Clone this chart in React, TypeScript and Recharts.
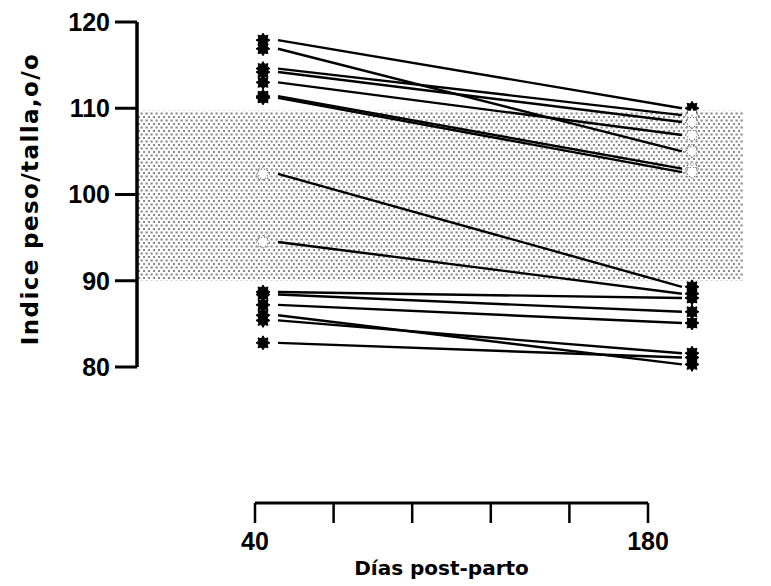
import { LineChart, Line, XAxis, YAxis, ReferenceArea } from 'recharts';

// días post-parto at which each woman was measured
const days = [40, 180];
const dayTicks = [40, 68, 96, 124, 152, 180];
const indexTicks = [80, 90, 100, 110, 120];
// shaded normal range of the weight/height index
const normalLow = 90;
const normalHigh = 109.7;
// índice peso/talla (%) per subject, same order in both arrays
const day40 = [117.9, 116.9, 114.6, 114.2, 113.0, 111.4, 111.2, 102.4, 94.5, 88.7, 88.4, 87.2, 86.0, 85.4, 82.8];
const day180 = [110.0, 105.0, 109.2, 108.4, 106.9, 103.0, 102.6, 89.3, 88.5, 88.0, 86.4, 85.1, 80.3, 81.6, 81.1];

const data = days.map((day, d) => {
  const row: Record<string, number> = { day };
  (d === 0 ? day40 : day180).forEach((v, i) => {
    row[`s${i}`] = v;
  });
  return row;
});

const axisData = dayTicks.map((day) => ({ day }));

const tickFont = { fill: '#000', fontSize: 25, fontWeight: 'bold', fontFamily: 'Liberation Sans, Arial, sans-serif' };
const titleFont = { fill: '#000', fontWeight: 'bold', fontFamily: 'DejaVu Sans, sans-serif' };

function starPath(r1: number, r2: number) {
  const pts: string[] = [];
  for (let k = 0; k < 16; k++) {
    const a = (k * Math.PI) / 8;
    const r = k % 2 === 0 ? r1 : r2;
    pts.push(`${(r * Math.cos(a)).toFixed(2)},${(r * Math.sin(a)).toFixed(2)}`);
  }
  return 'M' + pts.join('L') + 'Z';
}
const STAR = starPath(7, 4.5);

function Mark(props: any) {
  const { cx, cy, index, payload, dataKey } = props;
  if (cx == null || cy == null) return <g key={`${dataKey}-${index}`} />;
  const x = index === 0 ? cx - 15 : cx + 10;
  const v = payload[dataKey];
  const inBand = v > normalLow && v < normalHigh;
  return (
    <path
      key={`${dataKey}-${index}`}
      d={STAR}
      transform={`translate(${x},${cy})`}
      fill={inBand ? '#fff' : '#000'}
      stroke={inBand ? '#555' : '#000'}
      strokeWidth={1}
      strokeDasharray={inBand ? '1.2 1.6' : undefined}
    />
  );
}

export default function App() {
  return (
    <div style={{ position: 'absolute', left: 0, top: 0, width: 771, height: 586, background: '#fff' }}>
      <div style={{ position: 'absolute', left: 0, top: 0 }}>
        <LineChart width={771} height={392} data={data} margin={{ top: 22, right: 28, bottom: 25, left: 0 }}>
          <defs>
            <pattern id="dots" width="5" height="7" patternUnits="userSpaceOnUse">
              <rect x="0.5" y="0.5" width="2.2" height="2" fill="#111" />
              <rect x="3" y="4" width="2.2" height="2" fill="#111" />
            </pattern>
          </defs>
          <XAxis xAxisId="d" dataKey="day" type="number" domain={[40, 180]} padding={{ left: 141, right: 61 }} hide />
          <XAxis xAxisId="band" type="number" domain={[0, 1]} allowDataOverflow hide />
          <YAxis
            domain={[80, 120]}
            ticks={indexTicks}
            interval={0}
            width={137}
            tickSize={22}
            tickMargin={5}
            axisLine={{ stroke: '#000', strokeWidth: 3.5 }}
            tickLine={{ stroke: '#000', strokeWidth: 3 }}
            tick={tickFont}
            label={{
              content: (p: any) => (
                <text
                  transform={`translate(38,${p.viewBox.y + p.viewBox.height / 2 + 4.5}) rotate(-90)`}
                  textAnchor="middle"
                  fontSize={23}
                  letterSpacing={1.4}
                  style={titleFont}
                >
                  Indice peso/talla,o/o
                </text>
              ),
            }}
          />
          <ReferenceArea xAxisId="band" x1={0} x2={1} y1={normalLow} y2={normalHigh} fill="url(#dots)" stroke="none" />
          {day40.map((_, i) => (
            <Line
              key={i}
              xAxisId="d"
              dataKey={`s${i}`}
              stroke="#000"
              strokeWidth={2.4}
              dot={Mark}
              activeDot={false}
              isAnimationActive={false}
            />
          ))}
        </LineChart>
      </div>
      <div style={{ position: 'absolute', left: 0, top: 440 }}>
        <LineChart width={771} height={146} data={axisData} margin={{ top: 0, right: 123, bottom: 0, left: 255 }}>
          <YAxis hide />
          <XAxis
            dataKey="day"
            type="number"
            domain={[40, 180]}
            ticks={dayTicks}
            interval={0}
            height={83}
            tickSize={20}
            tickMargin={9}
            tickFormatter={(v: number) => (v === 40 || v === 180 ? String(v) : '')}
            axisLine={{ stroke: '#000', strokeWidth: 3 }}
            tickLine={{ stroke: '#000', strokeWidth: 2.5 }}
            tick={tickFont}
            label={{
              content: (p: any) => (
                <text
                  x={p.viewBox.x + p.viewBox.width / 2 - 10}
                  y={p.viewBox.y + p.viewBox.height - 11}
                  textAnchor="middle"
                  fontSize={20}
                  style={titleFont}
                >
                  Días post-parto
                </text>
              ),
            }}
          />
        </LineChart>
      </div>
    </div>
  );
}
